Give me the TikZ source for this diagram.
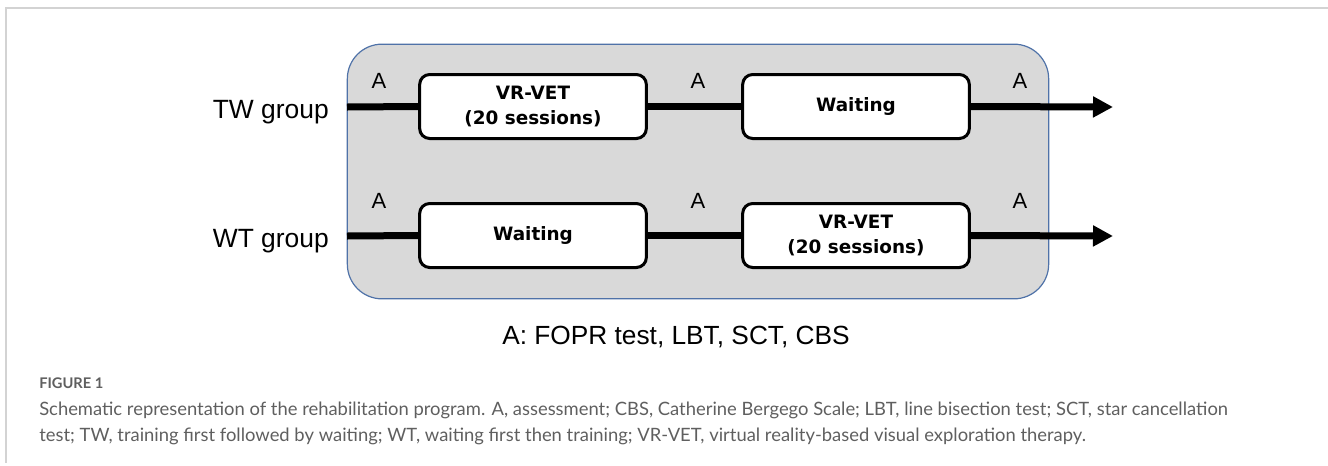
\documentclass[tikz,border=0pt]{standalone}
\usepackage{fontspec}
\setmainfont{Liberation Sans}
\newfontfamily\boxfont{DejaVu Sans}
\newfontfamily\capfont{Lato}
\usetikzlibrary{arrows.meta}
\definecolor{panel}{HTML}{D9D9D9}
\definecolor{panelborder}{HTML}{4F72A8}
\definecolor{framegray}{HTML}{D3D3D3}
\definecolor{captext}{HTML}{5F5F5F}
\begin{document}
\begin{tikzpicture}[x=0.75pt,y=-0.75pt,
  stage/.style={draw=black, fill=white, line width=2.25pt, rounded corners=7.5pt,
    minimum width=170pt, minimum height=48pt, inner sep=0pt, align=center,
    font=\boxfont\bfseries\fontsize{13.8}{19}\selectfont},
  flow/.style={line width=5.25pt},
  alabel/.style={anchor=base, inner sep=0pt, font=\fontsize{16.5}{20}\selectfont},
  grouplabel/.style={anchor=base east, inner sep=0pt, font=\fontsize{19.8}{24}\selectfont},
  captionline/.style={anchor=base west, inner sep=0pt, text=captext, font=\capfont\fontsize{13.8}{16}\selectfont}
]
\useasboundingbox (0,0) rectangle (1328,465);
% outer frame (top and left edges)
\draw[framegray, line width=1.5pt] (1328,7.5) -- (6,7.5) -- (6,463);
% panel
\node[draw=panelborder, fill=panel, line width=0.9pt, rounded corners=26pt,
  minimum width=526pt, minimum height=191pt, inner sep=0pt] (panel) at (698,171.5) {};
% TW row
\node[stage] (tw1) at (533,106.5) {VR-VET\\(20 sessions)};
\node[stage] (tw2) at (856,106.5) {Waiting};
\coordinate (twstart) at (347,107);
\coordinate (twend) at (1113,107);
\draw[flow] (twstart) -- (tw1.west);
\draw[flow] (tw1.east) -- (tw2.west);
\draw[flow, -{Triangle[length=15pt,width=15pt]}] (tw2.east) -- (twend);
% WT row
\node[stage] (wt1) at (533,235.5) {Waiting};
\node[stage] (wt2) at (856,235.5) {VR-VET\\(20 sessions)};
\coordinate (wtstart) at (347,236);
\coordinate (wtend) at (1113,236);
\draw[flow] (wtstart) -- (wt1.west);
\draw[flow] (wt1.east) -- (wt2.west);
\draw[flow, -{Triangle[length=15pt,width=15pt]}] (wt2.east) -- (wtend);
% assessment labels
\node[alabel] (a1) at (379,88) {A};
\node[alabel] (a2) at (698,88) {A};
\node[alabel] (a3) at (1020,88) {A};
\node[alabel] (a4) at (379,208) {A};
\node[alabel] (a5) at (698,208) {A};
\node[alabel] (a6) at (1020,208) {A};
% group labels
\node[grouplabel] (twlabel) at (329,118) {TW group};
\node[grouplabel] (wtlabel) at (329,247) {WT group};
% legend
\node[anchor=base, inner sep=0pt, font=\fontsize{19.7}{24}\selectfont] (legend) at (676,344) {A: FOPR test, LBT, SCT, CBS};
% figure caption
\node[anchor=base west, inner sep=0pt, text=captext, font=\capfont\bfseries\fontsize{11}{13}\selectfont] (figlabel) at (39,388) {FIGURE 1};
\node[captionline] (cap1) at (39,415) {Schematic representation of the rehabilitation program. A, assessment; CBS, Catherine Bergego Scale; LBT, line bisection test; SCT, star cancellation};
\node[captionline] (cap2) at (39,441) {test; TW, training first followed by waiting; WT, waiting first then training; VR-VET, virtual reality-based visual exploration therapy.};
\end{tikzpicture}
\end{document}
